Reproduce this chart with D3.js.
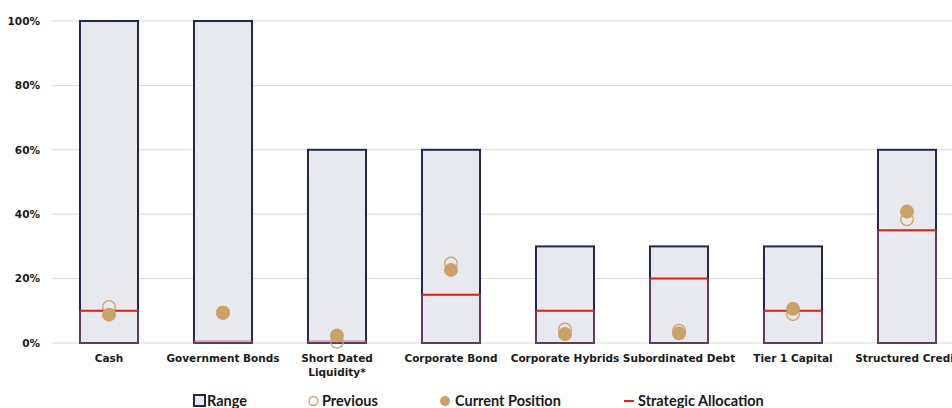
<!DOCTYPE html>
<html><head><meta charset="utf-8">
<script src="https://cdn.jsdelivr.net/npm/d3@7"></script>
<style>body{margin:0;background:#fff;}svg{display:block;}</style>
</head><body><svg id="c" width="952" height="408"></svg>
<script>
const categories = ["Cash","Government Bonds","Short Dated\nLiquidity*","Corporate Bond","Corporate Hybrids","Subordinated Debt","Tier 1 Capital","Structured Credit"];
const rangeMin = [0,0,0,0,0,0,0,0];
const rangeMax = [100,100,60,60,30,30,30,60];
const strategic = [10,null,null,15,10,20,10,35];
const previous = [11.2,9.4,0.4,24.7,4.2,3.8,9.0,38.4];
const current = [8.8,9.4,2.3,22.7,2.8,3.0,10.6,40.8];
const yTicks = [0,20,40,60,80,100];
const legendItems = ["Range","Previous","Current Position","Strategic Allocation"];

const svg = d3.select("#c");
const mLeft = 52, mTop = 21, mBottom = 343;
const x = d3.scaleBand().domain(categories).range([mLeft, mLeft + 114*categories.length]).paddingInner(0.491).paddingOuter(0.2455);
const y = d3.scaleLinear().domain([0,100]).range([mBottom, mTop]);

const gold = "#c9a26a", navy = "#23284a", red = "#ee1c1c";
const axisFont = "'DejaVu Sans', sans-serif";

// gridlines
svg.append("g").selectAll("line").data(yTicks).join("line")
  .attr("x1", mLeft).attr("x2", 952).attr("y1", d=>y(d)).attr("y2", d=>y(d))
  .attr("stroke", "#d9d9d9").attr("stroke-width", 1);

// y tick labels
const yAxis = d3.axisLeft(y).tickValues(yTicks).tickFormat(d=>d+"%").tickSize(0).tickPadding(12);
const ya = svg.append("g").attr("transform", `translate(${mLeft},0)`).call(yAxis);
ya.select(".domain").remove();
ya.selectAll("text").attr("font-family", axisFont).attr("font-weight","bold").attr("font-size","10.5px").attr("fill","#1a1a1a");

// range bars
const bw = x.bandwidth();
svg.append("g").selectAll("rect").data(categories).join("rect")
  .attr("x", d=>x(d)).attr("width", bw)
  .attr("y", (d,i)=>y(rangeMax[i])).attr("height", (d,i)=>y(rangeMin[i]) - y(rangeMax[i]))
  .attr("fill", "#e8e9ef").attr("stroke", navy).attr("stroke-width", 2);

// lower portion subtle outline
svg.append("g").selectAll("rect").data(categories).join("rect")
  .attr("x", d=>x(d)).attr("width", bw)
  .attr("y", (d,i)=>y(strategic[i]||0.6)).attr("height", (d,i)=>y(0) - y(strategic[i]||0.6))
  .attr("fill", "none").attr("stroke", "#b85a78").attr("stroke-opacity",0.55).attr("stroke-width", 1.5);

// strategic lines
svg.append("g").selectAll("line").data(categories.filter((d,i)=>strategic[i]!=null)).join("line")
  .attr("x1", d=>x(d)+1).attr("x2", d=>x(d)+bw-1)
  .attr("y1", d=>y(strategic[categories.indexOf(d)])).attr("y2", d=>y(strategic[categories.indexOf(d)]))
  .attr("stroke", red).attr("stroke-width", 2);

// previous
svg.append("g").selectAll("circle").data(categories).join("circle")
  .attr("cx", d=>x(d)+bw/2).attr("cy", (d,i)=>y(previous[i])).attr("r", 6.3)
  .attr("fill", "none").attr("stroke", gold).attr("stroke-width", 1.3);

// current
svg.append("g").selectAll("circle").data(categories).join("circle")
  .attr("cx", d=>x(d)+bw/2).attr("cy", (d,i)=>y(current[i])).attr("r", 7)
  .attr("fill", gold);

// x labels
const xl = svg.append("g").selectAll("text").data(categories).join("text")
  .attr("x", d=>x(d)+bw/2).attr("y", 362).attr("text-anchor","middle")
  .attr("font-family", axisFont).attr("font-weight","bold").attr("font-size","10.5px").attr("fill","#1a1a1a");
xl.each(function(d){
  const lines = d.split("\n");
  d3.select(this).selectAll("tspan").data(lines).join("tspan")
    .attr("x", x(d)+bw/2).attr("dy", (l,i)=>i===0?0:14).text(l=>l);
});

// legend
const lf = "Lato, 'Liberation Sans', sans-serif";
const lg = svg.append("g").attr("font-family", lf).attr("font-weight","bold").attr("font-size","14.5px").attr("fill","#1a1a1a");
const ly = 406;
const lx = [207, 322, 455, 638];
lg.append("rect").attr("x", 194).attr("y", 395).attr("width", 11).attr("height", 11).attr("fill","#e8e9ef").attr("stroke", navy).attr("stroke-width", 2);
lg.append("circle").attr("cx", 313.5).attr("cy", 401).attr("r", 4.5).attr("fill","none").attr("stroke", gold).attr("stroke-width",1.3);
lg.append("circle").attr("cx", 445).attr("cy", 401).attr("r", 5).attr("fill", gold);
lg.append("line").attr("x1", 624).attr("x2", 634).attr("y1", 401).attr("y2", 401).attr("stroke", red).attr("stroke-width", 2);
lg.selectAll("text").data(legendItems).join("text").attr("x",(d,i)=>lx[i]).attr("y", ly).text(d=>d);
</script></body></html>
